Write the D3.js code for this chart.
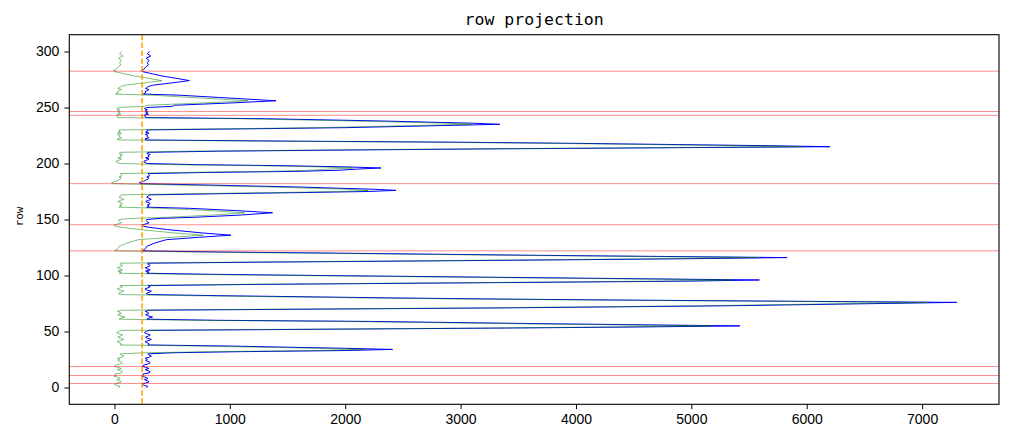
<!DOCTYPE html>
<html>
<head>
<meta charset="utf-8">
<script src="https://cdn.jsdelivr.net/npm/d3@7"></script>
<style>
  html, body { margin: 0; padding: 0; background: #fff; }
  svg { display: block; }
</style>
</head>
<body>
<div id="chart"></div>
<script>
// row index (y) sampled along the projection curve
var rows = [
    0, 1, 2, 3, 4, 5, 6, 7, 8, 9, 10, 11, 12, 13, 14, 15, 16, 17, 18, 19,
    20, 21, 22, 23, 24, 25, 26, 27, 28, 29, 30, 31, 32, 33, 34, 35, 36, 37, 38, 39,
    40, 41, 42, 43, 44, 45, 46, 47, 48, 49, 50, 51, 52, 53, 54, 55, 57, 59, 60, 61,
    62, 63, 64, 65, 66, 67, 68, 69, 70, 71, 73, 76, 78, 79, 80, 82, 83, 84, 85, 86,
    87, 88, 89, 90, 91, 92, 93, 94, 95, 96, 98, 100, 101, 102, 103, 104, 105, 106, 107, 108,
    109, 110, 111, 112, 113, 114, 115, 116, 118, 120, 121, 122, 123, 124, 126, 129, 132, 134, 136, 138,
    141, 143, 144, 145, 146, 147, 148, 149, 150, 151, 152, 154, 156, 158, 160, 161, 162, 163, 164, 165,
    166, 167, 168, 169, 170, 171, 172, 173, 174, 175, 176, 177, 179, 181, 182, 183, 184, 185, 186, 187,
    188, 189, 190, 191, 192, 193, 194, 195, 196, 197, 198, 199, 200, 201, 202, 203, 204, 205, 206, 207,
    208, 209, 210, 211, 212, 213, 214, 215, 216, 217, 218, 219, 220, 221, 222, 223, 224, 225, 226, 227,
    228, 229, 230, 231, 232, 234, 235, 236, 238, 240, 241, 242, 243, 244, 245, 246, 247, 248, 249, 250,
    251, 252, 254, 256, 259, 261, 262, 263, 264, 265, 266, 267, 268, 269, 270, 272, 274, 276, 278, 280,
    282, 283, 284, 286, 288, 290, 292, 294, 296, 298, 300
];

// row sums (blue)
var rowSum = [
    275, 290, 255, 240, 270, 300, 285, 260, 290, 275, 235, 250, 245, 300, 310, 290, 265, 300, 270, 240,
    255, 290, 310, 300, 270, 285, 265, 300, 320, 300, 290, 500, 1100, 2000, 2410, 2000, 1500, 1000, 290, 300,
    280, 265, 300, 320, 285, 270, 295, 310, 280, 260, 275, 300, 1800, 3300, 4500, 5420, 3700, 2200, 900, 280,
    300, 330, 290, 270, 300, 290, 265, 300, 1800, 3300, 5350, 7300, 4500, 3300, 2400, 900, 290, 275, 300, 320,
    280, 265, 290, 310, 290, 1200, 2500, 3800, 5000, 5590, 3700, 1800, 900, 280, 300, 270, 310, 285, 265, 300,
    310, 290, 290, 1400, 2700, 3900, 5000, 5830, 3700, 1900, 900, 240, 255, 270, 280, 350, 450, 720, 1010, 760,
    460, 300, 250, 235, 270, 300, 285, 275, 280, 400, 700, 1100, 1370, 1050, 650, 280, 300, 285, 310, 300,
    270, 290, 320, 300, 280, 295, 300, 900, 1600, 2200, 2440, 2250, 1600, 700, 230, 215, 250, 270, 290, 300,
    280, 305, 300, 290, 800, 1600, 1950, 2100, 2310, 2000, 1500, 700, 290, 260, 255, 280, 300, 270, 300, 290,
    310, 280, 300, 900, 2000, 3200, 4700, 6200, 5600, 4800, 4000, 3000, 1500, 270, 265, 300, 280, 290, 265, 300,
    270, 290, 280, 1200, 2000, 2900, 3340, 3100, 2300, 1300, 270, 270, 255, 295, 270, 290, 265, 285, 260, 280,
    500, 520, 1000, 1400, 900, 560, 250, 270, 265, 280, 300, 270, 285, 300, 340, 500, 650, 540, 420, 330,
    245, 230, 255, 270, 295, 285, 300, 275, 315, 285, 305
];

// row sums minus threshold (green)
var rowDiff = [
    35, 50, 15, 0, 30, 60, 45, 20, 50, 35, -5, 10, 5, 60, 70, 50, 25, 60, 30, 0,
    15, 50, 70, 60, 30, 45, 25, 60, 80, 60, 50, 260, 860, 1760, 2170, 1760, 1260, 760, 50, 60,
    40, 25, 60, 80, 45, 30, 55, 70, 40, 20, 35, 60, 1560, 3060, 4260, 5180, 3460, 1960, 660, 40,
    60, 90, 50, 30, 60, 50, 25, 60, 1560, 3060, 5110, 7060, 4260, 3060, 2160, 660, 50, 35, 60, 80,
    40, 25, 50, 70, 50, 960, 2260, 3560, 4760, 5350, 3460, 1560, 660, 40, 60, 30, 70, 45, 25, 60,
    70, 50, 50, 1160, 2460, 3660, 4760, 5590, 3460, 1660, 660, 0, 15, 30, 40, 110, 210, 480, 770, 520,
    220, 60, 10, -5, 30, 60, 45, 35, 40, 160, 460, 860, 1130, 810, 410, 40, 60, 45, 70, 60,
    30, 50, 80, 60, 40, 55, 60, 660, 1360, 1960, 2200, 2010, 1360, 460, -10, -25, 10, 30, 50, 60,
    40, 65, 60, 50, 560, 1360, 1710, 1860, 2070, 1760, 1260, 460, 50, 20, 15, 40, 60, 30, 60, 50,
    70, 40, 60, 660, 1760, 2960, 4460, 5960, 5360, 4560, 3760, 2760, 1260, 30, 25, 60, 40, 50, 25, 60,
    30, 50, 40, 960, 1760, 2660, 3100, 2860, 2060, 1060, 30, 30, 15, 55, 30, 50, 25, 45, 20, 40,
    260, 280, 760, 1160, 660, 320, 10, 30, 25, 40, 60, 30, 45, 60, 100, 260, 410, 300, 180, 90,
    5, -10, 15, 30, 55, 45, 60, 35, 75, 45, 65
];

var threshold = 240;
var cutRows = [282.4, 246.4, 243, 182, 145.3, 122, 18.7, 10.7, 3.6];
var xTicks = [0, 1000, 2000, 3000, 4000, 5000, 6000, 7000];
var yTicks = [0, 50, 100, 150, 200, 250, 300];

var W = 1011, H = 442;
var margin = { left: 69.3, top: 34.7, right: 12, bottom: 37.7 };
var iw = W - margin.left - margin.right,
    ih = H - margin.top - margin.bottom;

var svg = d3.select('#chart').append('svg')
    .attr('width', W)
    .attr('height', H);

var allVals = rowSum.concat(rowDiff);
var xMin = d3.min(allVals), xMax = d3.max(allVals);
var xPad = (xMax - xMin) * 0.05;
var x = d3.scaleLinear().domain([xMin - xPad, xMax + xPad]).range([0, iw]);
var yPad = (d3.max(rows) - d3.min(rows)) * 0.05;
var y = d3.scaleLinear().domain([d3.min(rows) - yPad, d3.max(rows) + yPad]).range([ih, 0]);

var g = svg.append('g').attr('transform', 'translate(' + margin.left + ',' + margin.top + ')');

g.append('clipPath').attr('id', 'clip')
    .append('rect').attr('width', iw).attr('height', ih);

var plot = g.append('g').attr('clip-path', 'url(#clip)');

var line = function (vals) {
    return d3.line()
        .x(function (d, i) { return x(vals[i]); })
        .y(function (d) { return y(d); })(rows);
};

plot.append('path')
    .attr('d', line(rowSum))
    .attr('fill', 'none')
    .attr('stroke', 'blue')
    .attr('stroke-width', 1)
    .attr('stroke-linejoin', 'round');

plot.append('path')
    .attr('d', line(rowDiff))
    .attr('fill', 'none')
    .attr('stroke', 'green')
    .attr('stroke-opacity', 0.5)
    .attr('stroke-width', 1)
    .attr('stroke-linejoin', 'round');

plot.append('line')
    .attr('x1', x(threshold)).attr('x2', x(threshold))
    .attr('y1', 0).attr('y2', ih)
    .attr('stroke', 'orange')
    .attr('stroke-width', 1.6)
    .attr('stroke-dasharray', '5.5,2.4');

plot.selectAll('.cut')
    .data(cutRows)
    .enter().append('line')
    .attr('class', 'cut')
    .attr('x1', 0).attr('x2', iw)
    .attr('y1', function (d) { return y(d); })
    .attr('y2', function (d) { return y(d); })
    .attr('stroke', 'red')
    .attr('stroke-opacity', 0.45)
    .attr('stroke-width', 1);

// axes
var xAxis = g.append('g')
    .attr('transform', 'translate(0,' + ih + ')')
    .call(d3.axisBottom(x).tickValues(xTicks).tickFormat(d3.format('d')).tickSizeOuter(0).tickSize(4.9).tickPadding(5));

var yAxis = g.append('g')
    .call(d3.axisLeft(y).tickValues(yTicks).tickFormat(d3.format('d')).tickSizeOuter(0).tickSize(4.9).tickPadding(5));

[xAxis, yAxis].forEach(function (a) {
    a.select('.domain').remove();
    a.selectAll('line').attr('stroke', '#000').attr('stroke-width', 1);
    a.selectAll('text')
        .attr('fill', '#000')
        .style('font-family', '"Liberation Sans", Arial, sans-serif')
        .style('font-size', '14px');
});

g.append('rect')
    .attr('width', iw).attr('height', ih)
    .attr('fill', 'none')
    .attr('stroke', '#000')
    .attr('stroke-width', 1.1);

svg.append('text')
    .attr('x', margin.left + iw / 2)
    .attr('y', 24.5)
    .attr('text-anchor', 'middle')
    .style('font-family', '"DejaVu Sans Mono", "Liberation Mono", monospace')
    .style('font-size', '16.5px')
    .text('row projection');

svg.append('text')
    .attr('transform', 'translate(23,' + (margin.top + ih / 2 - 3) + ') rotate(-90)')
    .attr('text-anchor', 'middle')
    .style('font-family', '"DejaVu Sans Mono", "Liberation Mono", monospace')
    .style('font-size', '11px')
    .text('row');
</script>
</body>
</html>
